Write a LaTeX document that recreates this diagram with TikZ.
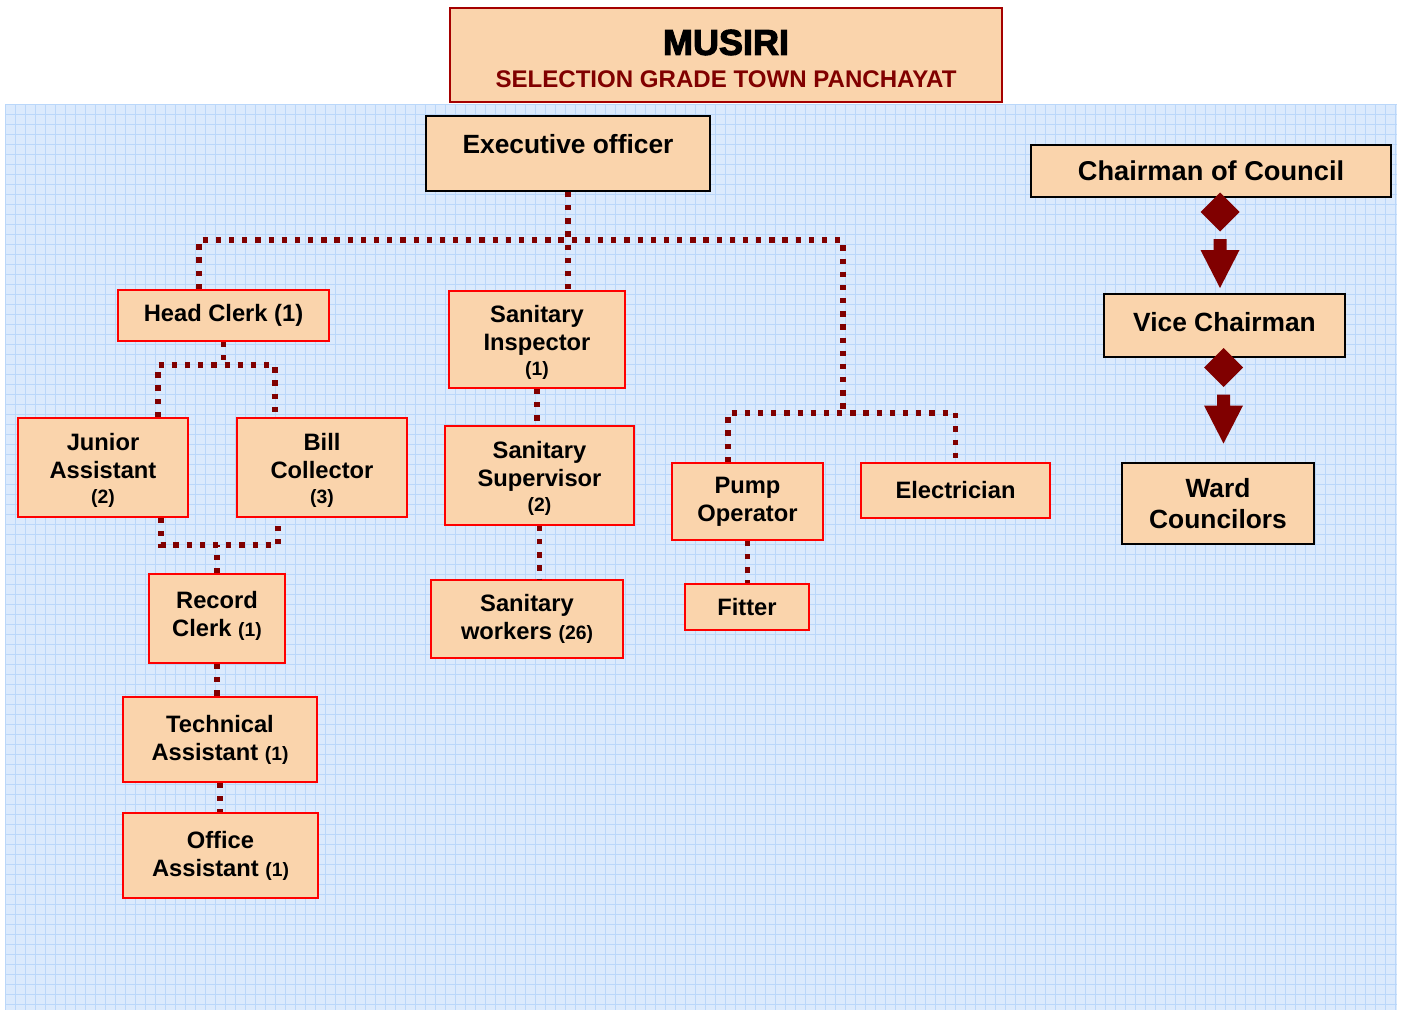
\documentclass[tikz,border=0pt]{standalone}
\usepackage{fontspec}
\setmainfont{Liberation Sans}
\newfontfamily\heavyfont{Liberation Sans}[FakeBold=3]
\usetikzlibrary{calc}
\definecolor{gridblue}{RGB}{219,234,253}
\definecolor{gridrule}{RGB}{186,215,250}
\definecolor{peach}{RGB}{250,212,172}
\definecolor{boxred}{RGB}{255,0,0}
\definecolor{maroon}{RGB}{128,0,0}
\definecolor{titlered}{RGB}{165,0,0}
\newcommand\nos[1]{{\fontsize{11}{16}\selectfont #1}}

\begin{document}
\begin{tikzpicture}[x=0.02cm, y=-0.02cm,
  post/.style={draw=boxred, line width=1.1pt, fill=peach, align=center,
    inner sep=0pt, font=\bfseries\fontsize{13.5}{16}\selectfont},
  low/.style={text height=43.5pt},
  council/.style={post, draw=black, font=\bfseries\fontsize{15}{17.5}\selectfont},
  link/.style={draw=maroon, line width=3pt, dash pattern=on 3pt off 4.5pt}]
  \useasboundingbox (0,0) rectangle (1403,1011);
  % Background grid
  \fill[gridblue] (5,104) rectangle (1397,1010);
  \foreach \gx in {5,15,...,1395}
    \draw[gridrule, line width=0.4pt] (\gx,104) -- (\gx,1010);
  \foreach \gy in {104,114,...,1004}
    \draw[gridrule, line width=0.4pt] (5,\gy) -- (1397,\gy);
  % Title
  \node[post, draw=titlered, line width=1.2pt, minimum width=11.04cm, minimum height=1.88cm,
    text height=37pt, font=\bfseries\fontsize{13.7}{16.5}\selectfont] (title) at (726,55)
    {{\heavyfont\bfseries\fontsize{20.5}{20}\selectfont MUSIRI}\\[2pt]
     {\color{maroon}SELECTION GRADE TOWN PANCHAYAT}};
  % Office staff
  \node[council, minimum width=5.68cm, minimum height=1.5cm, text depth=10.5pt] (exec) at (568,153.5) {Executive officer};
  \node[post, minimum width=4.22cm, minimum height=1.02cm] (head) at (223.5,315.5) {Head Clerk (1)};
  \node[post, low, minimum width=3.4cm, minimum height=1.98cm] (junior) at (103,467.5) {Junior\\Assistant\\[-1.5pt]\nos{(2)}};
  \node[post, low, minimum width=3.4cm, minimum height=1.98cm] (bill) at (322,467.5) {Bill\\Collector\\[-1.5pt]\nos{(3)}};
  \node[post, text depth=5pt, minimum width=2.72cm, minimum height=1.78cm] (record) at (217,618.5) {Record\\Clerk \nos{(1)}};
  \node[post, minimum width=3.88cm, minimum height=1.7cm] (tech) at (220,739.5) {Technical\\Assistant \nos{(1)}};
  \node[post, minimum width=3.9cm, minimum height=1.7cm] (office) at (220.5,855.5) {Office\\Assistant \nos{(1)}};
  % Sanitary staff
  \node[post, low, minimum width=3.52cm, minimum height=1.94cm] (sinsp) at (537,339.5) {Sanitary\\Inspector\\[-1.5pt]\nos{(1)}};
  \node[post, low, minimum width=3.78cm, minimum height=1.98cm] (ssup) at (539.5,475.5) {Sanitary\\Supervisor\\[-1.5pt]\nos{(2)}};
  \node[post, minimum width=3.84cm, minimum height=1.56cm] (swork) at (527,619) {Sanitary\\workers \nos{(26)}};
  % Water supply
  \node[post, minimum width=3.02cm, minimum height=1.54cm] (pump) at (747.5,501.5) {Pump\\Operator};
  \node[post, minimum width=3.78cm, minimum height=1.1cm] (elec) at (955.5,490.5) {Electrician};
  \node[post, minimum width=2.48cm, minimum height=0.92cm] (fitter) at (747,607) {Fitter};
  % Council
  \node[council, minimum width=7.2cm, minimum height=1.04cm, font=\bfseries\fontsize{15.5}{18}\selectfont] (chair) at (1211,171) {Chairman of Council};
  \node[council, text depth=4.5pt, minimum width=4.82cm, minimum height=1.26cm] (vice) at (1224.5,325.5) {Vice Chairman};
  \node[council, minimum width=3.84cm, minimum height=1.62cm] (ward) at (1218,503.5) {Ward\\Councilors};
  \foreach \x/\y in {1220/212, 1223.5/367.5} {
    \fill[maroon] (\x,\y-19.5) -- (\x+19.5,\y) -- (\x,\y+19.5) -- (\x-19.5,\y) -- cycle;
    \fill[maroon] (\x-6.5,\y+27) -- (\x+6.5,\y+27) -- (\x+6.5,\y+38) -- (\x+19.5,\y+38)
      -- (\x,\y+76) -- (\x-19.5,\y+38) -- (\x-6.5,\y+38) -- cycle;
  }
  % Links
  \coordinate (eobus) at (199,240);
  \coordinate (wsbus) at (843,413);
  \coordinate (pumpL) at (728,413);
  \coordinate (hcL) at (158,365);
  \coordinate (hcR) at (275,365);
  \coordinate (jbL) at (161,545);
  \coordinate (jbR) at (278,545);
  \draw[link] (exec.south) -- (exec.south |- sinsp.north);
  \draw[link] (head.north -| eobus) -- (eobus) -| (wsbus);
  \draw[link] (pump.north -| pumpL) -- (pumpL) -- (pumpL -| elec.north) -- (elec.north);
  \draw[link] (head.south) -- (head.south |- hcL);
  \draw[link] (junior.north -| hcL) -- (hcL) -- (hcR) -- (bill.north -| hcR);
  \draw[link] (junior.south -| jbL) -- (jbL) -- (jbR) -- (bill.south -| jbR);
  \draw[link] (record.north) -- (record.north |- jbL);
  \draw[link] (record.south) -- (record.south |- tech.north);
  \draw[link] (tech.south) -- (tech.south |- office.north);
  \draw[link] (sinsp.south) -- (sinsp.south |- ssup.north);
  \draw[link] (ssup.south) -- (ssup.south |- swork.north);
  \draw[link] (pump.south) -- (pump.south |- fitter.north);
\end{tikzpicture}
\end{document}
